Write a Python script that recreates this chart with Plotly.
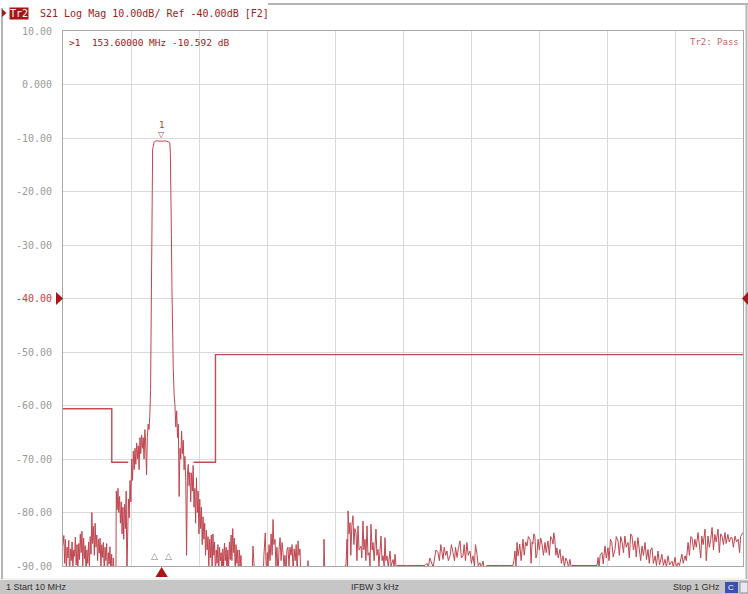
import plotly.graph_objects as go

# ---------------- data ----------------
start_mhz = 10
stop_mhz = 1000
y_ticks = [10, 0, -10, -20, -30, -40, -50, -60, -70, -80, -90]
y_tick_labels = ["10.00", "0.000", "-10.00", "-20.00", "-30.00", "-40.00",
                 "-50.00", "-60.00", "-70.00", "-80.00", "-90.00"]
ref_level = -40

marker_mhz = 153.6
marker_db = -10.592

limit1_mhz = [10, 81, 81, 105]
limit1_db = [-60.6, -60.6, -70.6, -70.6]
limit2_mhz = [200, 232, 232, 1000]
limit2_db = [-70.6, -70.6, -50.5, -50.5]

trace_mhz = [
    10, 11.2, 12.4, 13.6, 14.8, 16, 17.2, 18.4, 19.6, 20.8, 22, 23.2, 24.4, 25.6, 26.8, 28, 29.2, 30.4,
    31.6, 32.8, 34, 35.2, 36.4, 37.6, 38.8, 40, 41.2, 42.4, 43.6, 44.8, 46, 47.2, 48.4, 49.6, 50.8, 52,
    53.2, 54.4, 55.6, 56.8, 58, 59.2, 60.4, 61.6, 62.8, 64, 65.2, 66.4, 67.6, 68.8, 70, 71.2, 72.4, 73.6,
    74.8, 76, 77.2, 78.4, 79.6, 80.8, 82, 83.2, 84.4, 85.6,
    87, 87.6, 88.8, 90, 91.2, 92.4, 93.6, 94.8, 96, 97.2, 98.4, 99.6, 100.8, 102, 103, 104, 105.2, 106.4,
    107.6, 108.8, 110, 111.2, 112.4, 113.6, 114.8, 116, 117.2, 118.4, 119.6, 120.8, 122, 123.2, 124.4,
    125.6, 126.8, 128, 129.2, 130.4, 131.6, 132.8, 134, 135.2, 136.4, 137.5, 138.3, 138.8, 139.6, 140.5,
    141.5, 142.5,
    144, 147, 150, 153.6, 157, 160, 163, 165.5, 166.3, 167, 167.8, 168.6, 169.5, 170.5, 171.8, 173,
    174.2, 175.5, 176.7, 177.9, 179.1, 180.3, 181.5, 182.7, 183.9, 185.1, 186.3, 187.5, 188.7, 189.9,
    191.1, 192.3, 193.5, 194.7, 195.9, 197.1, 198.3, 199.5, 200.7, 201.9, 203.1, 204.3, 205.5, 206.7,
    207.9, 209.1, 210.3, 211.5, 212.7, 213.9, 215.1, 216.3, 217.5, 218.7, 219.9, 221.1, 222.3, 223.5,
    224.7, 225.9, 227.1, 228.3, 229.5, 230.7, 231.9, 233.1, 234.3, 235.5, 236.7, 237.9, 239.1, 240.3,
    241.5, 242.7, 243.9, 245.1, 246.3, 247.5, 248.7, 249.9, 251.1, 252.3, 253.5, 254.7, 255.9, 257.1,
    258.3, 259.5, 260.7, 261.9, 263.1, 264.3, 265.5, 266.7, 267.9, 269.1, 270.3, 272, 274, 276, 278, 280,
    282, 284,
    285.5, 286.6, 288, 289.5, 291, 293, 295, 297, 299, 301, 302.5, 303.5, 304.5, 305.5, 306.5, 307.5,
    308.5, 310, 311.5, 313, 314.5, 315.8, 317, 318.7, 320, 321.5, 323, 324.5, 326, 327.5, 329, 330.3,
    331.8, 333.2, 334.5, 336, 337.5, 339, 340.5, 342, 343.5, 345, 346.5, 348, 349.5, 351, 352.2, 353.5,
    355, 356.5, 358, 360, 362, 364, 366.7, 368, 370, 375, 380, 385, 389, 390, 391.5, 395, 400,
    410, 420, 422, 423.5, 424.3, 425, 426.5, 427.9, 429, 430.5, 432.2, 433.5, 435, 436.6, 438, 439.5,
    441, 443.9, 445, 446.8, 448, 449.7, 451, 452.6, 454, 455.5, 457, 458.4, 460, 461.4, 463, 465.7, 467,
    468.6, 470, 473, 474.5, 476, 477.5, 478.8, 480, 481.7, 483.5, 486.1, 487.5, 490.5, 492, 493.4, 495,
    496.3, 510, 525, 537,
    540, 542, 544, 547, 549, 551, 553, 556, 558, 560, 561.8, 563.3, 565, 567, 569, 571, 573.5, 575.5,
    577.8, 580, 581.5, 583.7, 585.5, 588, 590, 592.4, 594, 596, 598, 600, 602.6, 604.5, 607, 609, 610.5,
    612.8, 614.5, 617, 619, 621.5, 623, 627, 646, 665,
    666.5, 668, 669.5, 671, 672.5, 674, 675, 677, 679.7, 681.5, 683.5, 685.6, 687.5, 690, 691.5, 693,
    694, 695.5, 697, 698.5, 700, 701.6, 703.5, 705.5, 707.4, 709.5, 711.8, 713.5, 716, 718, 720, 722,
    723.4, 724.5, 726, 727.5, 729, 731, 733.6, 735.5, 738, 740, 742, 744, 746, 748, 750, 751, 760, 775,
    787.5,
    789, 790.5, 792, 794.8, 796.5, 799, 801, 803.5, 805, 807, 809, 811, 813.7, 815.5, 818, 820, 822, 824,
    826, 828, 830, 832.6, 834.5, 836.5, 838.4, 840.5, 842.8, 844.5, 847, 849, 851, 853, 855, 857.4, 859.5,
    861.7, 863.5, 865.5, 867.6, 869.5, 872, 874, 876.3, 878.5, 882, 884, 886.5, 888.5, 890.9, 893, 896.7,
    898.5, 901, 903, 905.4, 907.5, 911, 913, 915.6, 917.5, 920, 922, 924, 925.8, 928, 930, 932, 934.5,
    936.5, 938.5, 940, 942, 944.7, 946.5, 949, 951, 953, 955, 957, 959, 961, 963.6, 965.5, 967.5, 969.5,
    971.5, 973.8, 975.5, 978, 980, 982, 984, 986, 988.4, 990.5, 993, 995, 996.5, 998.6, 1000,
]

trace_db = [
    -86, -84.3, -89.5, -85, -91, -86.5, -88.5, -85.2, -92, -86.8, -89, -85.5, -90.5, -87, -88.2, -84.6,
    -89.8, -86, -91.5, -85.8, -88.8, -84, -87.5, -83.5, -90, -84.8, -88.6, -86.2, -92, -87, -89.5, -85.5,
    -90.2, -84.5, -87.8, -80, -85.8, -82.6, -88, -82, -86.5, -84.2, -89, -85, -87.6, -84.8, -90.5, -86,
    -88.4, -85.6, -91, -86.5, -89, -85.8, -92, -87.5, -89.6, -86.4, -91, -87.8, -93, -88.5, -92, -94,
    -93, -76, -79.5, -75.5, -80, -77, -82, -78, -84, -79, -85, -78.5, -83, -76, -92, -80, -77.5, -81,
    -74, -78, -70, -74, -68.5, -72, -68, -71, -67, -70, -67.5, -72, -66, -69, -65.5, -68, -66, -70,
    -64.5, -67, -73, -66, -63.5, -64.5, -62, -57, -45, -33, -25, -12, -11.6, -10.8,
    -10.6, -10.5, -10.6, -10.592, -10.6, -10.55, -10.7, -10.9, -13, -18, -28, -38, -48, -53, -58, -60,
    -64, -61, -66, -63.5, -77, -68, -70, -64.8, -69, -66.5, -72, -69.5, -74, -88, -73, -71, -75, -72.5,
    -78, -72.6, -76, -71.2, -79, -75.5, -82, -73.5, -80, -76, -84, -77.5, -83, -79, -86, -80.8, -85, -82,
    -88, -83.3, -87, -84.5, -90, -85, -88.5, -84.2, -91, -84, -88, -85.5, -92, -87, -89.5, -86, -91,
    -86.5, -89, -87.5, -93, -86.8, -90, -85.7, -89, -86.5, -92, -87, -90.5, -85.5, -88.8, -84.2, -89, -83,
    -87.5, -84.8, -91, -86, -89.5, -87, -92, -87, -90, -88, -93, -91, -94, -92, -95, -93, -94, -92,
    -91, -86.3, -90, -93, -92, -94, -92, -95, -93, -94, -88, -84, -83.8, -89, -91, -87.5, -90, -86, -89,
    -84, -88, -81.3, -86, -85, -90, -86.5, -92, -87, -84.7, -89, -85.6, -87.5, -90, -88, -92, -87, -86.5,
    -90, -86.5, -88, -86, -91, -86.8, -89, -86, -92, -85.3, -88, -86.8, -93, -90.5, -94, -92, -95, -89,
    -93, -95, -94, -95, -94, -95, -85, -93, -95, -94,
    -95, -90, -89.9, -85, -90, -79.7, -84, -81.9, -88, -82.5, -80.6, -86, -83, -83.8, -89, -82.5, -87,
    -86.3, -88.5, -81.6, -87, -85, -89, -82.5, -88, -87.5, -90, -82.2, -87, -85.6, -89, -83.1, -88, -86.9,
    -90, -84.4, -89, -88.1, -90, -84.7, -89, -88.1, -90.2, -87.2, -90, -88.8, -90.3, -87.8, -90.3, -89.9,
    -89.9, -89.9, -89.9,
    -89.5, -90.2, -88.5, -89.4, -90.2, -88.5, -87, -87.5, -89, -86, -87.5, -88.75, -86.5, -88, -87.2, -89,
    -88.1, -86, -87.5, -89, -86.5, -88.4, -86.8, -85.3, -88.5, -88.1, -86, -89, -85.6, -88, -87.2, -89.5,
    -88.1, -90, -86, -87.8, -90, -89.4, -90.3, -89.1, -90.3, -89.9, -89.9, -89.9,
    -89, -87.2, -90, -85.6, -88.1, -87, -85.9, -89, -85, -88, -85.5, -86.25, -84.5, -85, -89.5, -85.5,
    -85.9, -84, -84.4, -88.5, -87.8, -85, -87, -84.8, -85.9, -88, -85.6, -87.5, -85.3, -88, -84.5, -85,
    -85.9, -83.8, -85, -88, -86.6, -88.5, -86.9, -89.5, -88.1, -90.2, -88.5, -89.1, -90.3, -88.75, -90.3,
    -89.9, -89.9, -89.9, -89.9,
    -88.4, -90.3, -88, -87.5, -89.6, -86.25, -88.5, -86.6, -89, -85, -85.6, -88.3, -86.9, -84.5, -85.3,
    -88, -84.5, -85.6, -87.5, -84.4, -86.5, -85.6, -88.5, -84, -84.4, -87, -85.3, -88.3, -84.7, -86.5, -89,
    -86.25, -88, -85.6, -88.8, -86.9, -89.5, -87, -86.6, -89.5, -88.1, -89.9, -87.2, -89.8, -87.8, -89.9,
    -88.75, -90.2, -88.1, -89.8, -89.1, -90.2, -88.4, -90.2, -89.4, -89.9, -87.8, -89.5, -88.1, -89,
    -85.6, -88, -84.5, -84.7, -87, -85, -86.5, -83.75, -86, -88.5, -84.4, -86, -83.1, -89, -84.4, -86.5,
    -85, -82.8, -87, -84.1, -85.5, -83.1, -87.5, -84, -84.4, -86, -83.75, -85.8, -84.1, -85.5, -84.7,
    -84.7, -86.5, -84.4, -85.5, -85, -87.5, -84.5, -84, -83.75,
]

# ---------------- layout helpers (pixel geometry of the 748x594 canvas) ----------------
W, H = 748, 594
L, R, T, B = 63, 743, 31, 566


def px(x):
    return (x - L) / (R - L)


def py(y):
    return (B - y) / (B - T)


RED = "#bf4650"
DARK_RED = "#9c1c1c"
MONO = "DejaVu Sans Mono"

fig = go.Figure()

fig.add_trace(go.Scatter(x=limit1_mhz, y=limit1_db, mode="lines",
                         line=dict(color="#c64a52", width=1.4), hoverinfo="skip"))
fig.add_trace(go.Scatter(x=limit2_mhz, y=limit2_db, mode="lines",
                         line=dict(color="#c64a52", width=1.4), hoverinfo="skip"))
fig.add_trace(go.Scatter(x=trace_mhz, y=trace_db, mode="lines",
                         line=dict(color=RED, width=1), hoverinfo="skip"))

annotations = []
# y tick labels
for v, t in zip(y_ticks, y_tick_labels):
    annotations.append(dict(x=px(54), xref="paper", y=v, yref="y", text=t, showarrow=False,
                            xanchor="right", yanchor="middle",
                            font=dict(family=MONO, size=10,
                                      color="#c83c3c" if v == ref_level else "#9a9a9a")))

# header
annotations.append(dict(x=px(9), y=py(13), xref="paper", yref="paper", text="Tr2", showarrow=False,
                        xanchor="left", yanchor="middle", bgcolor="#a81616",
                        font=dict(family=MONO, size=10, color="white"), borderpad=0))
annotations.append(dict(x=px(38), y=py(13), xref="paper", yref="paper",
                        text="S21 Log Mag 10.00dB/ Ref -40.00dB [F2]", showarrow=False,
                        xanchor="left", yanchor="middle",
                        font=dict(family=MONO, size=10, color=DARK_RED)))
# marker readout
annotations.append(dict(x=px(67), y=py(42), xref="paper", yref="paper",
                        text=">1  153.60000 MHz -10.592 dB", showarrow=False,
                        xanchor="left", yanchor="middle",
                        font=dict(family=MONO, size=9.5, color=DARK_RED)))
annotations.append(dict(x=px(741), y=py(42), xref="paper", yref="paper",
                        text="Tr2: Pass", showarrow=False, xanchor="right", yanchor="middle",
                        font=dict(family=MONO, size=9, color="#c86464")))
# marker label on trace
annotations.append(dict(x=marker_mhz, y=marker_db + 3.0, xref="x", yref="y", text="1",
                        showarrow=False, font=dict(family=MONO, size=9, color="#a04040")))
annotations.append(dict(x=marker_mhz, y=marker_db + 1.3, xref="x", yref="y", text="▽",
                        showarrow=False, font=dict(family="DejaVu Sans", size=8, color="#a04040")))
# small delta markers at the bottom
for f in (142.5, 164.3):
    annotations.append(dict(x=f, y=py(563), xref="x", yref="paper", text="△", showarrow=False,
                            font=dict(family="DejaVu Sans", size=9, color="#808080")))
# status bar text
annotations.append(dict(x=px(4), y=py(587), xref="paper", yref="paper", text="1 Start 10 MHz",
                        showarrow=False, xanchor="left", yanchor="middle",
                        font=dict(family="Liberation Sans", size=9, color="#303030")))
annotations.append(dict(x=px(349), y=py(587), xref="paper", yref="paper", text="IFBW 3 kHz",
                        showarrow=False, xanchor="left", yanchor="middle",
                        font=dict(family="Liberation Sans", size=9, color="#303030")))
annotations.append(dict(x=px(722), y=py(587), xref="paper", yref="paper", text="Stop 1 GHz",
                        showarrow=False, xanchor="right", yanchor="middle",
                        font=dict(family="Liberation Sans", size=9, color="#303030")))
annotations.append(dict(x=px(731), y=py(587), xref="paper", yref="paper", text="C",
                        showarrow=False, xanchor="center", yanchor="middle",
                        font=dict(family="Liberation Sans", size=8, color="white")))

shapes = [
    # status bar
    dict(type="rect", xref="paper", yref="paper", x0=px(0), x1=px(748), y0=py(580), y1=py(594),
         fillcolor="#c6c6c6", line=dict(width=0), layer="below"),
    dict(type="line", xref="paper", yref="paper", x0=px(0), x1=px(748), y0=py(579), y1=py(579),
         line=dict(color="#e6e6e6", width=1)),
    dict(type="rect", xref="paper", yref="paper", x0=px(725), x1=px(738), y0=py(582), y1=py(593),
         fillcolor="#3a4fb0", line=dict(width=0)),
    dict(type="rect", xref="paper", yref="paper", x0=px(740), x1=px(748), y0=py(582), y1=py(593),
         fillcolor="#e8e8f0", line=dict(color="#9090a0", width=1)),
    # outer frame lines
    dict(type="line", xref="paper", yref="paper", x0=px(2), x1=px(2), y0=py(8), y1=py(579),
         line=dict(color="#b4b4b4", width=2)),
    dict(type="line", xref="paper", yref="paper", x0=px(746.5), x1=px(746.5), y0=py(4), y1=py(579),
         line=dict(color="#b4b4b4", width=2)),
    dict(type="line", xref="paper", yref="paper", x0=px(268), x1=px(748), y0=py(4), y1=py(4),
         line=dict(color="#b4b4b4", width=2)),
    # header: small left triangle
    dict(type="path", xref="paper", yref="paper",
         path=f"M {px(2)} {py(9)} L {px(6.5)} {py(13)} L {px(2)} {py(17)} Z",
         fillcolor=DARK_RED, line=dict(width=0)),
    # reference level arrows at -40 dB
    dict(type="path", xref="paper", yref="y",
         path=f"M {px(56)} {ref_level + 1.2} L {px(63)} {ref_level} L {px(56)} {ref_level - 1.2} Z",
         fillcolor="#a81616", line=dict(width=0)),
    dict(type="path", xref="paper", yref="y",
         path=f"M {px(748)} {ref_level + 1.2} L {px(742)} {ref_level} L {px(748)} {ref_level - 1.2} Z",
         fillcolor="#a81616", line=dict(width=0)),
    # active marker triangle under the x axis
    dict(type="path", xref="x", yref="paper",
         path=f"M {marker_mhz - 9} {py(577)} L {marker_mhz} {py(567)} L {marker_mhz + 9} {py(577)} Z",
         fillcolor="#a81616", line=dict(width=0)),
]

fig.update_layout(
    width=W, height=H,
    margin=dict(l=L, r=W - R, t=T, b=H - B),
    paper_bgcolor="white", plot_bgcolor="white",
    showlegend=False,
    annotations=annotations,
    shapes=shapes,
    xaxis=dict(range=[start_mhz, stop_mhz], tick0=start_mhz, dtick=(stop_mhz - start_mhz) / 10,
               showgrid=True, gridcolor="#dadada", gridwidth=1, zeroline=False,
               showticklabels=False, ticks="", showline=True, linecolor="#a8a8a8",
               linewidth=1, mirror=True, fixedrange=True),
    yaxis=dict(range=[-90, 10], tick0=-90, dtick=10,
               showgrid=True, gridcolor="#dadada", gridwidth=1, zeroline=False,
               showticklabels=False, ticks="", showline=True, linecolor="#a8a8a8",
               linewidth=1, mirror=True, fixedrange=True),
)

fig.write_html(
    "out.html",
    config={"displayModeBar": False},
    post_script="document.documentElement.style.margin='0';document.body.style.margin='0';"
                "document.body.style.overflow='hidden';document.documentElement.style.overflow='hidden';",
)
